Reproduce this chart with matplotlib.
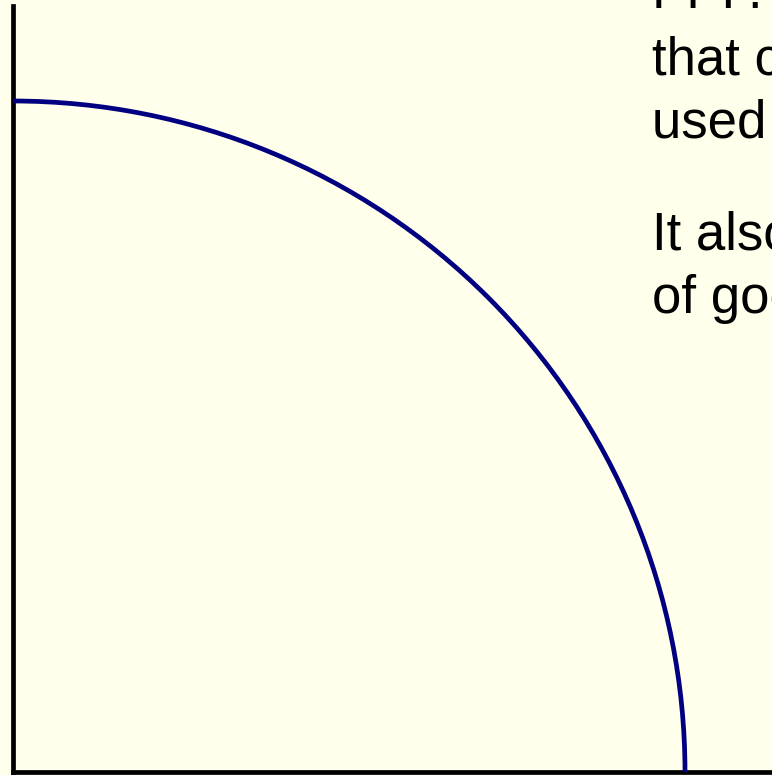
import matplotlib.pyplot as plt
from matplotlib.patches import Arc

# --- DATA (axis units, origin at the corner of the axes) ---
ppf_max_x = 672      # where the frontier meets the horizontal axis
ppf_max_y = 671      # where the frontier meets the vertical axis
x_range = 759
y_range = 766

text_lines = ["PPF.", "that can be produced", "used efficiently.",
              "It also shows", "of goods."]
text_baselines = [8, 75, 138, 250, 313]   # pixels from top

bg = "#FFFFEC"
W, H = 772, 775

fig = plt.figure(figsize=(W / 100, H / 100), dpi=100, facecolor=bg)
ax = fig.add_axes([13 / W, 3 / H, (W - 13) / W, y_range / H])
ax.set_facecolor(bg)
ax.set_xlim(0, x_range)
ax.set_ylim(0, y_range)

# production possibilities frontier
ppf = Arc((0, 0), 2 * ppf_max_x, 2 * ppf_max_y, theta1=0, theta2=90,
          color="#000080", lw=3.4, zorder=3)
ax.add_patch(ppf)

for s in ["top", "right"]:
    ax.spines[s].set_visible(False)
for s in ["left", "bottom"]:
    ax.spines[s].set_linewidth(3.4)
    ax.spines[s].set_color("black")
ax.set_xticks([])
ax.set_yticks([])

# slide text, cut off by the right edge as in the original
for line, yb in zip(text_lines, text_baselines):
    fig.text(652 / W, 1 - yb / H, line, fontsize=38, family="Liberation Sans",
             va="baseline", ha="left", color="black")

fig.savefig("out.png", dpi=100, facecolor=bg)
